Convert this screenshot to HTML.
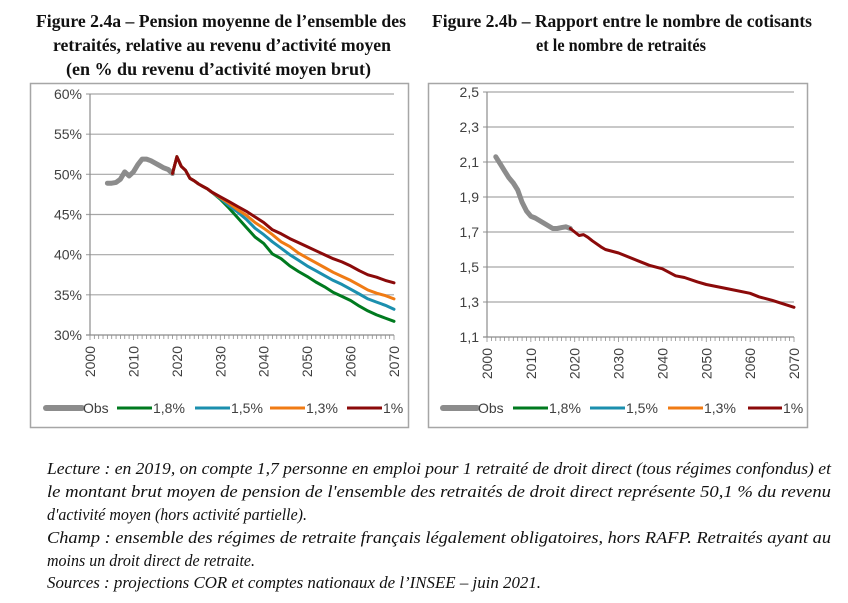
<!DOCTYPE html>
<html><head><meta charset="utf-8"><style>
html,body{margin:0;padding:0;background:#fff;}
svg{display:block;}
.t{font-family:"Liberation Serif",serif;font-weight:bold;font-size:17.5px;fill:#111;}
.f{font-family:"Liberation Serif",serif;font-style:italic;font-size:16.5px;fill:#111;}
.a{font-family:"Liberation Sans",sans-serif;font-size:14px;fill:#404040;}
</style></head><body>
<svg id="s" width="848" height="603" viewBox="0 0 848 603" xmlns="http://www.w3.org/2000/svg">
<text class="t" x="36" y="27" textLength="370" lengthAdjust="spacingAndGlyphs">Figure 2.4a – Pension moyenne de l’ensemble des</text>
<text class="t" x="53" y="51" textLength="338" lengthAdjust="spacingAndGlyphs">retraités, relative au revenu d’activité moyen</text>
<text class="t" x="66" y="75" textLength="305" lengthAdjust="spacingAndGlyphs">(en % du revenu d’activité moyen brut)</text>
<text class="t" x="432" y="27" textLength="380" lengthAdjust="spacingAndGlyphs">Figure 2.4b – Rapport entre le nombre de cotisants</text>
<text class="t" x="536" y="51" textLength="170" lengthAdjust="spacingAndGlyphs">et le nombre de retraités</text>

<rect x="30.5" y="83.5" width="378" height="344" fill="none" stroke="#a6a6a6" stroke-width="1.5"/>
<rect x="428.5" y="83.5" width="379" height="344" fill="none" stroke="#a6a6a6" stroke-width="1.5"/>
<g id="g"></g>

<text class="f" x="47" y="474" textLength="784" lengthAdjust="spacingAndGlyphs">Lecture : en 2019, on compte 1,7 personne en emploi pour 1 retraité de droit direct (tous régimes confondus) et</text>
<text class="f" x="47" y="497" textLength="784" lengthAdjust="spacingAndGlyphs">le montant brut moyen de pension de l'ensemble des retraités de droit direct représente 50,1 % du revenu</text>
<text class="f" x="47" y="520" textLength="260" lengthAdjust="spacingAndGlyphs">d'activité moyen (hors activité partielle).</text>
<text class="f" x="47" y="543" textLength="784" lengthAdjust="spacingAndGlyphs">Champ : ensemble des régimes de retraite français légalement obligatoires, hors RAFP. Retraités ayant au</text>
<text class="f" x="47" y="566" textLength="208" lengthAdjust="spacingAndGlyphs">moins un droit direct de retraite.</text>
<text class="f" x="47" y="588" textLength="494" lengthAdjust="spacingAndGlyphs">Sources : projections COR et comptes nationaux de l’INSEE – juin 2021.</text>
</svg>
<script>
var g=document.getElementById('g'),NS='http://www.w3.org/2000/svg';
function el(n,a,t){var e=document.createElementNS(NS,n);for(var k in a)e.setAttribute(k,a[k]);if(t!==undefined)e.textContent=t;g.appendChild(e);return e;}
function chart(x0,x1,yTop,yBot,vmin,vmax,step,fmt,series,leg){
  var X=function(yr){return x0+(yr-2000)*(x1-x0)/70;};
  var Y=function(v){return yBot-(v-vmin)*(yBot-yTop)/(vmax-vmin);};
  for(var v=vmin;v<=vmax+1e-9;v+=step){
    var y=Y(v);
    el('line',{x1:x0-4,x2:x1,y1:y,y2:y,stroke:v==vmin?'#8c8c8c':'#a6a6a6','stroke-width':1.2});
    el('text',{x:x0-8,y:y+5,'text-anchor':'end','class':'a'},fmt(v));
  }
  el('line',{x1:x0,x2:x0,y1:yTop,y2:yBot,stroke:'#8c8c8c','stroke-width':1.2});
  for(var yr=2000;yr<=2070;yr++){
    el('line',{x1:X(yr),x2:X(yr),y1:yBot,y2:yBot+(yr%10?4:5),stroke:'#8c8c8c','stroke-width':0.8});
    if(yr%10==0){var xx=X(yr)+5,yy=yBot+11;el('text',{x:xx,y:yy,'text-anchor':'end','class':'a',transform:'rotate(-90 '+xx+' '+yy+')'},yr);}
  }
  series.forEach(function(s){
    var p=s.d.map(function(q){return X(q[0]).toFixed(1)+','+Y(q[1]).toFixed(1);}).join(' ');
    el('polyline',{points:p,fill:'none',stroke:s.c,'stroke-width':s.w,'stroke-linejoin':'round','stroke-linecap':'round'});
  });
  leg.forEach(function(l){
    el('line',{x1:l[0],x2:l[1],y1:408,y2:408,stroke:l[3],'stroke-width':l[4],'stroke-linecap':l[4]>4?'round':'butt'});
    el('text',{x:l[1]+1,y:413,'class':'a','font-size':'15'},l[2]);
  });
}
function mk(yrs,vals){return yrs.map(function(y,i){return [y,vals[i]];});}
var common=[[2019,50.1],[2020,52.2],[2021,51.0],[2022,50.5],[2023,49.5],[2024,49.2],[2025,48.8],[2026,48.5],[2027,48.2],[2028,47.8]];
var ys=[2030,2032,2034,2036,2038,2040,2042,2044,2046,2048,2050,2052,2054,2056,2058,2060,2062,2064,2066,2068,2070];
var G=[46.9,45.8,44.6,43.4,42.2,41.4,40.1,39.5,38.6,37.9,37.3,36.6,36.0,35.3,34.8,34.3,33.6,33.0,32.5,32.1,31.7];
var B=[47.0,46.1,45.3,44.4,43.3,42.5,41.6,40.8,40.0,39.3,38.6,38.0,37.4,36.8,36.3,35.7,35.1,34.5,34.1,33.7,33.2];
var O=[47.1,46.4,45.6,44.9,44.0,43.3,42.5,41.6,41.0,40.2,39.6,39.0,38.4,37.8,37.3,36.8,36.2,35.6,35.2,34.9,34.5];
var R=[47.2,46.6,46.0,45.4,44.7,44.0,43.1,42.6,42.0,41.5,41.0,40.5,40.0,39.5,39.1,38.6,38.0,37.5,37.2,36.8,36.5];
var obs=[[2004,48.9],[2005,48.9],[2006,49.0],[2007,49.4],[2008,50.3],[2009,49.8],[2010,50.3],[2011,51.2],[2012,51.9],[2013,51.9],[2014,51.7],[2015,51.4],[2016,51.1],[2017,50.8],[2018,50.6],[2019,50.1]];
chart(90,394,94,335,30,60,5,function(v){return Math.round(v)+'%';},[
 {d:obs,c:'#8c8c8c',w:5},
 {d:common.concat(mk(ys,G)),c:'#007a1f',w:3},
 {d:common.concat(mk(ys,B)),c:'#1b8fae',w:3},
 {d:common.concat(mk(ys,O)),c:'#f07b14',w:3},
 {d:common.concat(mk(ys,R)),c:'#8b0a0a',w:3}],
 [[46,82,'Obs','#8c8c8c',6],[117,152,'1,8%','#007a1f',3],[195,230,'1,5%','#1b8fae',3],[270,305,'1,3%','#f07b14',3],[347,382,'1%','#8b0a0a',3]]);
var obs2=[[2002,2.13],[2003,2.09],[2004,2.05],[2005,2.01],[2006,1.98],[2007,1.94],[2008,1.87],[2009,1.82],[2010,1.79],[2011,1.78],[2012,1.765],[2013,1.75],[2014,1.735],[2015,1.72],[2016,1.72],[2017,1.725],[2018,1.73],[2019,1.72]];
var red2=[[2019,1.72],[2020,1.70],[2021,1.68],[2022,1.685],[2023,1.67],[2024,1.65],[2026,1.615],[2027,1.60],[2030,1.58],[2035,1.53],[2037,1.51],[2040,1.49],[2043,1.45],[2045,1.44],[2048,1.415],[2050,1.40],[2055,1.375],[2060,1.35],[2062,1.33],[2065,1.31],[2070,1.27]];
chart(487,794,92,337,1.1,2.5,0.2,function(v){return v.toFixed(1).replace('.',',');},[
 {d:obs2,c:'#8c8c8c',w:5},
 {d:red2,c:'#8b0a0a',w:3}],
 [[443,477,'Obs','#8c8c8c',6],[513,548,'1,8%','#007a1f',3],[590,625,'1,5%','#1b8fae',3],[668,703,'1,3%','#f07b14',3],[748,782,'1%','#8b0a0a',3]]);
</script>
</body></html>
